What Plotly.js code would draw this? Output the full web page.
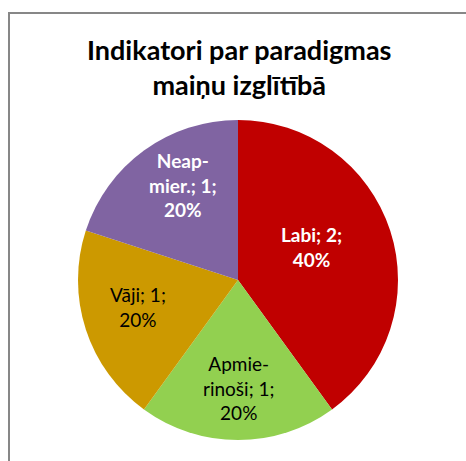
<!DOCTYPE html>
<html>
<head>
<meta charset="utf-8">
<script src="https://cdn.plot.ly/plotly-3.0.1.min.js"></script>
<style>html,body{margin:0;padding:0;background:#fff;}#chart{width:466px;height:461px;}</style>
</head>
<body>
<div id="chart"></div>
<script>
var categories = ["Labi", "Apmierinoši", "Vāji", "Neapmier."];
var wrappedNames = ["Labi", "Apmie-<br>rinoši", "Vāji", "Neap-<br>mier."];
var values = [2, 1, 1, 1];
var colors = ["#C00000", "#92D050", "#CC9900", "#8064A2"];
var textColors = ["#FFFFFF", "#000000", "#000000", "#FFFFFF"];
var textWeights = ["bold", "normal", "normal", "bold"];
var titleText = "Indikatori par paradigmas<br>maiņu izglītībā";

var W = 466, H = 461;
var cx = 238, cy = 280, R = 160;
var labelRadius = [0.506, 0.675, 0.65, 0.686];
var labelAngleShift = [-6, 0, 3, 6];

var trace = {
  type: "pie",
  labels: categories,
  values: values,
  sort: false,
  direction: "clockwise",
  rotation: 0,
  marker: {colors: colors, line: {width: 0}},
  textinfo: "none",
  hoverinfo: "none",
  showlegend: false,
  domain: {x: [(cx - R) / W, (cx + R) / W], y: [(H - cy - R) / H, (H - cy + R) / H]}
};

var total = values.reduce(function (a, b) { return a + b; }, 0);
var annotations = [];
var cum = 0;
for (var i = 0; i < values.length; i++) {
  var mid = ((cum + values[i] / 2) / total * 360 + labelAngleShift[i]) * Math.PI / 180;
  cum += values[i];
  var px = cx + labelRadius[i] * R * Math.sin(mid);
  var py = cy - labelRadius[i] * R * Math.cos(mid);
  var pct = Math.round(values[i] / total * 100) + "%";
  annotations.push({
    xref: "paper", yref: "paper",
    x: px / W, y: 1 - py / H,
    xanchor: "center", yanchor: "middle",
    showarrow: false,
    text: wrappedNames[i] + "; " + values[i] + ";<br>" + pct,
    font: {family: "Lato, sans-serif", size: 19, color: textColors[i], weight: textWeights[i]}
  });
}
annotations.push({
  xref: "paper", yref: "paper",
  x: 239 / W, y: 1 - 31 / H,
  xanchor: "center", yanchor: "top",
  showarrow: false,
  text: titleText,
  font: {family: "Lato, sans-serif", size: 27, color: "#000000", weight: "bold"}
});

var layout = {
  width: W, height: H,
  margin: {l: 0, r: 0, t: 0, b: 0},
  paper_bgcolor: "#FFFFFF",
  showlegend: false,
  annotations: annotations,
  shapes: [
    {type: "line", xref: "paper", yref: "paper", x0: 9 / W, x1: 1.05, y0: 1 - 13 / H, y1: 1 - 13 / H, line: {color: "#878787", width: 2}},
    {type: "line", xref: "paper", yref: "paper", x0: 9 / W, x1: 9 / W, y0: 1 - 12 / H, y1: -0.05, line: {color: "#878787", width: 2}}
  ]
};

Plotly.newPlot("chart", [trace], layout, {displayModeBar: false, staticPlot: true});
</script>
</body>
</html>
